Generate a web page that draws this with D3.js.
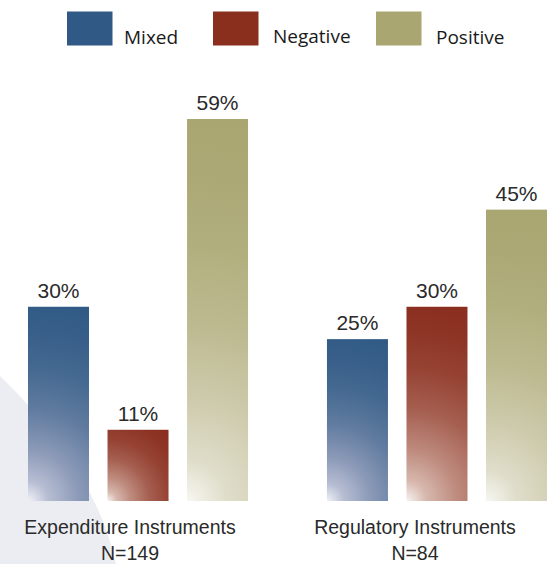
<!DOCTYPE html>
<html>
<head>
<meta charset="utf-8">
<script src="https://cdn.jsdelivr.net/npm/d3@7"></script>
<style>
  html, body { margin: 0; padding: 0; background: #ffffff; }
  svg { display: block; }
</style>
</head>
<body>
<div id="chart"></div>
<script>
// Share of outcomes by instrument type
const groups = ["Expenditure Instruments", "Regulatory Instruments"];
const groupCounts = ["N=149", "N=84"];
const series = ["Mixed", "Negative", "Positive"];
const expenditureValues = [30, 11, 59];
const regulatoryValues = [25, 30, 45];

const W = 550, H = 564;
const baseline = 501;

const palette = {
  Mixed:    { solid: "#305a85", mid: "#99a3bf", light: "#f0f1f7" },
  Negative: { solid: "#8a2e1e", mid: "#c6998c", light: "#f8f2ef" },
  Positive: { solid: "#a9a671", mid: "#d4d2b8", light: "#f7f7f2" }
};

const rows = groups.map((g, i) => ({
  group: g,
  count: groupCounts[i],
  values: series.map((s, j) => ({
    key: s,
    value: (i === 0 ? expenditureValues : regulatoryValues)[j]
  }))
}));

const svg = d3.select("#chart").append("svg")
  .attr("width", W).attr("height", H);
const defs = svg.append("defs");

// soft grey wedge in the lower-left corner
svg.append("path")
  .attr("d", "M0,376 Q95,468 116,564 L0,564 Z")
  .attr("fill", "#ecedf2");

const x0 = d3.scaleBand().domain(groups).range([28, 547]).paddingInner(0.264).paddingOuter(0);
const x1 = d3.scaleBand().domain(series).range([0, x0.bandwidth()]).paddingInner(0.233).paddingOuter(0);
const y = d3.scaleLinear().domain([0, 59]).range([baseline, 119]);

// radial fade from the bottom-left corner, reaching full colour at the top-right corner
const fadeStops = [[0, 0], [0.1, 0.3], [0.25, 0.52], [0.45, 0.75], [0.65, 0.89], [0.85, 0.97], [1, 1]];

const g = svg.append("g");
rows.forEach((row, gi) => {
  row.values.forEach((d, si) => {
    const bx = x0(row.group) + x1(d.key);
    const by = y(d.value);
    const bw = x1.bandwidth(), bh = baseline - by;
    const id = `fade-${gi}-${si}`;
    const p = palette[d.key];
    const tint = d3.scaleLinear().domain([0, 0.45, 1]).range([p.light, p.mid, p.solid]);
    const grad = defs.append("radialGradient")
      .attr("id", id)
      .attr("gradientUnits", "userSpaceOnUse")
      .attr("cx", bx).attr("cy", baseline)
      .attr("fx", bx).attr("fy", baseline)
      .attr("r", Math.hypot(bw, bh));
    fadeStops.forEach(([o, t]) => {
      grad.append("stop").attr("offset", o).attr("stop-color", tint(t));
    });
    g.append("rect")
      .attr("x", bx).attr("y", by)
      .attr("width", bw)
      .attr("height", bh)
      .attr("fill", `url(#${id})`);
    g.append("text")
      .attr("x", bx + bw / 2)
      .attr("y", by - 9)
      .attr("text-anchor", "middle")
      .attr("font-family", "'Liberation Sans', Arial, sans-serif")
      .attr("font-size", 21)
      .attr("fill", "#2a2a2a")
      .text(d.value + "%");
  });
});

// group captions under the bars
const captionShift = [-8, -22];
rows.forEach((row, gi) => {
  const cx = x0(row.group) + x0.bandwidth() / 2 + captionShift[gi];
  const t = svg.append("text")
    .attr("text-anchor", "middle")
    .attr("font-family", "'Liberation Sans', Arial, sans-serif")
    .attr("font-size", 19.5)
    .attr("fill", "#2a2a2a");
  t.append("tspan").attr("x", cx).attr("y", 534).text(row.group);
  t.append("tspan").attr("x", cx).attr("y", 560).text(row.count);
});

// legend
const legendX = [67, 213, 376];
const legendTextX = [124, 273, 436];
const legend = svg.append("g");
series.forEach((s, i) => {
  legend.append("rect")
    .attr("x", legendX[i]).attr("y", 11.5)
    .attr("width", 45.5).attr("height", 34)
    .attr("fill", palette[s].solid);
  legend.append("text")
    .attr("x", legendTextX[i])
    .attr("y", i === 1 ? 43 : 44)
    .attr("font-family", "'Open Sans', 'Noto Sans', sans-serif")
    .attr("font-size", 19)
    .attr("fill", "#1a1a1a")
    .text(s);
});
</script>
</body>
</html>
